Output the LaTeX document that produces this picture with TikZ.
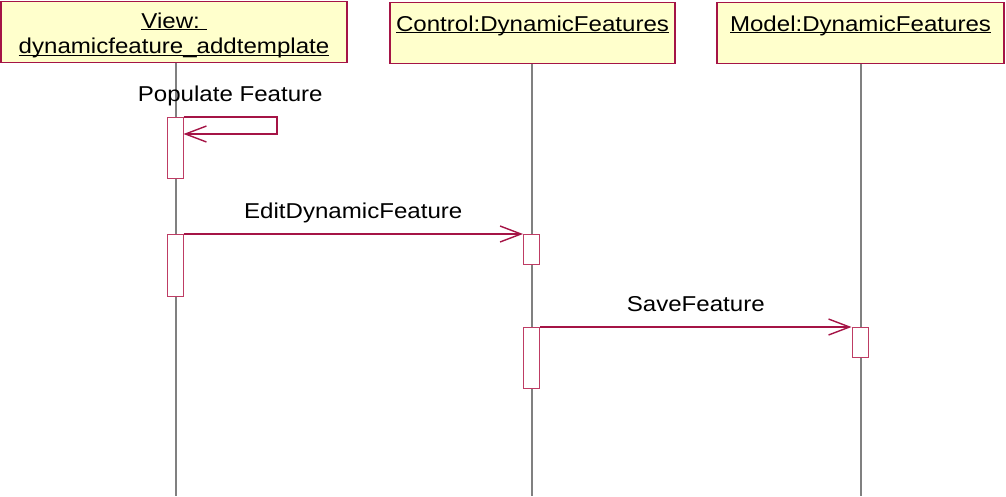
\documentclass[tikz,border=0pt]{standalone}
\usepackage{fontspec}
\setmainfont{Liberation Sans}[FakeStretch=1.12]
\usetikzlibrary{arrows.meta,positioning}
\definecolor{umlred}{RGB}{165,20,70}
\definecolor{umlpink}{RGB}{190,60,100}
\definecolor{umlyellow}{RGB}{255,255,204}
\newcommand{\objname}[1]{\setbox0\hbox{#1}\rlap{\rule[-2pt]{\wd0}{1.1pt}}\box0}
\tikzstyle{object}=[rectangle,draw=umlred,fill=umlyellow,line width=1.2pt,
minimum height=61pt,inner sep=0pt,align=center,anchor=north,
font=\fontsize{21.5}{25.5}\selectfont]
\tikzstyle{activation}=[rectangle,draw=umlpink,fill=white,line width=1pt,
minimum width=16pt,inner sep=0pt,anchor=north]
\tikzstyle{lifeline}=[draw=black!50,line width=1.2pt]
\tikzstyle{message}=[draw=umlred,line width=1.1pt,-{Straight Barb[length=21pt,width=16pt,line width=1.4pt]}]
\tikzstyle{msglabel}=[anchor=base,yshift=16pt,inner sep=0pt,font=\fontsize{21.5}{25}\selectfont]

\begin{document}
\begin{tikzpicture}[x=1pt,y=-1pt]
            \useasboundingbox (0,0) rectangle (1006,496);

            % OBJECTS

            \node[object,minimum width=346pt] (view) at (174,1) {\rule{0pt}{22pt}\objname{View:\ }\\\objname{dynamicfeature\_addtemplate}};
            \node[object,minimum width=285pt] (ctrl) at (532.5,2) {\rule{0pt}{22pt}\objname{Control:DynamicFeatures}\\~};
            \node[object,minimum width=287pt] (model) at (860.5,2) {\rule{0pt}{22pt}\objname{Model:DynamicFeatures}\\~};

            % LIFELINES

            \coordinate (viewend) at (176,496);
            \coordinate (ctrlend) at (532,496);
            \coordinate (modelend) at (861,496);
            \path[lifeline] (view.south -| viewend) -- (viewend);
            \path[lifeline] (ctrl.south -| ctrlend) -- (ctrlend);
            \path[lifeline] (model.south -| modelend) -- (modelend);

            % ACTIVATIONS

            \node[activation,minimum height=61pt] (a1) at (175,117) {};
            \node[activation,minimum height=62pt] (a2) at (175,234) {};
            \node[activation,minimum height=30pt] (a3) at (531.5,234) {};
            \node[activation,minimum height=61pt] (a4) at (531.5,327) {};
            \node[activation,minimum height=30pt] (a5) at (860,327) {};

            % MESSAGES

            \coordinate (selfback) at (277,134);
            \draw[message] (a1.north east) -- node[msglabel] {Populate Feature} (a1.north east -| selfback) -- (selfback) -- (a1.east |- selfback);
            \draw[message] (a2.north east) -- node[msglabel] {EditDynamicFeature} (a3.north west);
            \draw[message] (a4.north east) -- node[msglabel] {SaveFeature} (a5.north west);

        \end{tikzpicture}
\end{document}
